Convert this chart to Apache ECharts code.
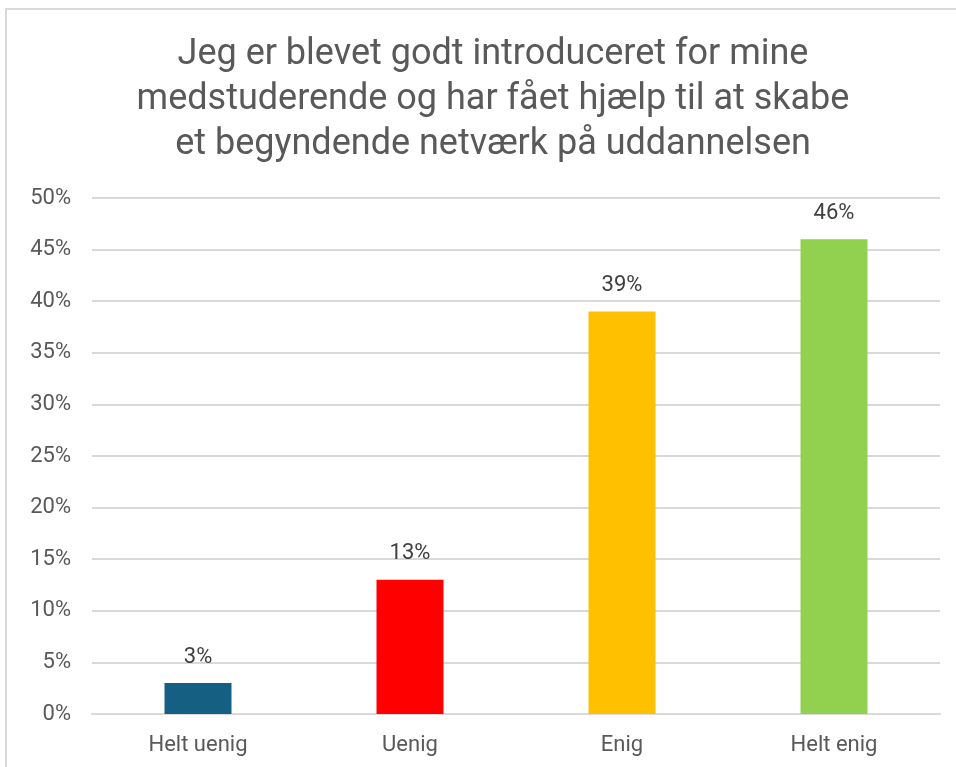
<!DOCTYPE html>
<html><head><meta charset="utf-8">
<script src="https://cdn.jsdelivr.net/npm/echarts@6/dist/echarts.min.js"></script>
<style>
html,body{margin:0;padding:0;background:#fff;overflow:hidden}
#c{position:absolute;left:0;top:0;width:956px;height:767px}
#frame{position:absolute;left:5px;top:8px;width:960px;height:770px;border:2px solid #d9d9d9;pointer-events:none}
</style></head>
<body>
<div id="c"></div><div id="frame"></div>
<script>
const titleText = "Jeg er blevet godt introduceret for mine\nmedstuderende og har fået hjælp til at skabe\net begyndende netværk på uddannelsen";
const categories = ["Helt uenig", "Uenig", "Enig", "Helt enig"];
const values = [3, 13, 39, 46];
const colors = ["#156082", "#FF0000", "#FFC000", "#92D050"];
const yTicks = [0, 5, 10, 15, 20, 25, 30, 35, 40, 45, 50];

const chart = echarts.init(document.getElementById('c'));
chart.setOption({
  animation: false,
  title: {
    text: titleText, left: 488, top: 27, textAlign: 'center',
    textStyle: {fontFamily: 'Roboto', fontWeight: 'normal', fontSize: 36, color: '#595959', lineHeight: 45}
  },
  grid: {left: 92, right: 16, top: 198, bottom: 53},
  xAxis: {
    type: 'category', data: categories,
    axisLine: {show: true, lineStyle: {color: '#d9d9d9', width: 2}},
    axisTick: {show: false},
    axisLabel: {fontFamily: 'Roboto', fontSize: 22, color: '#595959', margin: 20}
  },
  yAxis: {
    type: 'value', min: 0, max: 50, interval: 5,
    axisLine: {show: false}, axisTick: {show: false},
    splitLine: {lineStyle: {color: '#d9d9d9', width: 2}},
    axisLabel: {fontFamily: 'Roboto', fontSize: 22, color: '#595959', margin: 21,
      formatter: v => yTicks.includes(v) ? v + '%' : ''}
  },
  series: [{
    type: 'bar', barWidth: '31.6%',
    data: values.map((v, i) => ({value: v, itemStyle: {color: colors[i]}})),
    label: {show: true, position: 'top', distance: 15, formatter: p => p.value + '%',
      fontFamily: 'Roboto', fontSize: 22, color: '#404040'}
  }]
});
</script>
</body></html>
